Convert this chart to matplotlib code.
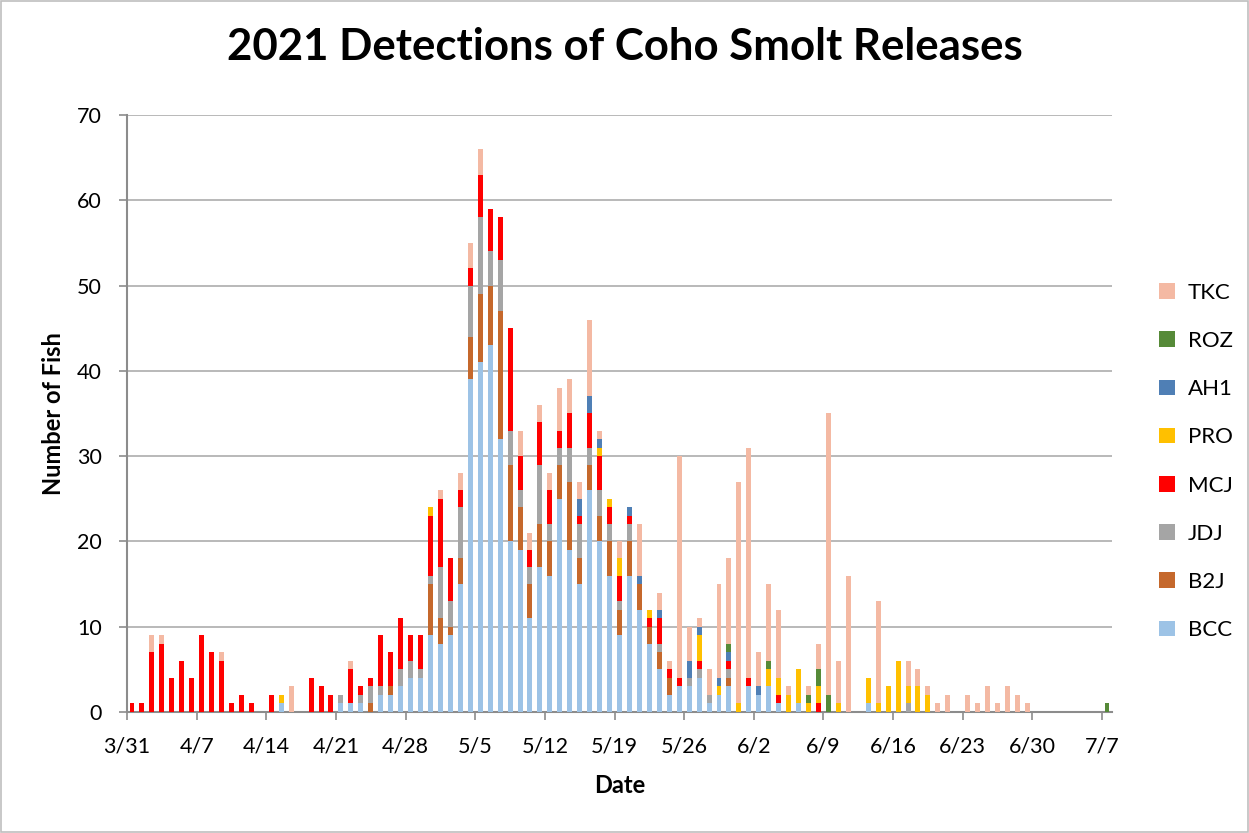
import numpy as np
import pandas as pd
import matplotlib
matplotlib.use("Agg")
import matplotlib.pyplot as plt
from matplotlib.patches import Rectangle

plt.rcParams["font.family"] = ["Lato", "DejaVu Sans"]

# daily detections 3/31 - 7/7, one row per week
days = pd.date_range("2021-03-31", "2021-07-07", freq="D")

BCC = [0, 0, 0, 0, 0, 0, 0,
       0, 0, 0, 0, 0, 0, 0,
       0, 1, 0, 0, 0, 0, 0,
       1, 1, 1, 0, 2, 2, 3,
       4, 4, 9, 8, 9, 15, 39,
       41, 43, 32, 20, 19, 11, 17,
       16, 25, 19, 15, 26, 20, 16,
       9, 16, 12, 8, 5, 2, 3,
       3, 4, 1, 2, 3, 0, 3,
       2, 3, 1, 0, 1, 0, 0,
       0, 0, 0, 0, 1, 0, 0,
       0, 0, 0, 0, 0, 0, 0,
       0, 0, 0, 0, 0, 0, 0,
       0, 0, 0, 0, 0, 0, 0,
       0]
B2J = [0, 0, 0, 0, 0, 0, 0,
       0, 0, 0, 0, 0, 0, 0,
       0, 0, 0, 0, 0, 0, 0,
       0, 0, 0, 1, 0, 1, 0,
       0, 0, 6, 3, 1, 3, 5,
       8, 7, 15, 9, 5, 4, 5,
       4, 4, 8, 3, 3, 3, 4,
       3, 4, 3, 2, 2, 2, 0,
       0, 0, 0, 0, 1, 0, 0,
       0, 0, 0, 0, 0, 0, 0,
       0, 0, 0, 0, 0, 0, 0,
       0, 0, 0, 0, 0, 0, 0,
       0, 0, 0, 0, 0, 0, 0,
       0, 0, 0, 0, 0, 0, 0,
       0]
JDJ = [0, 0, 0, 0, 0, 0, 0,
       0, 0, 0, 0, 0, 0, 0,
       0, 0, 0, 0, 0, 0, 0,
       1, 0, 1, 2, 1, 0, 2,
       2, 1, 1, 6, 3, 6, 6,
       9, 4, 6, 4, 2, 2, 7,
       2, 2, 4, 4, 2, 3, 2,
       1, 2, 0, 0, 1, 0, 0,
       1, 1, 1, 0, 1, 0, 0,
       0, 0, 0, 0, 0, 0, 0,
       0, 0, 0, 0, 0, 0, 0,
       0, 1, 0, 0, 0, 0, 0,
       0, 0, 0, 0, 0, 0, 0,
       0, 0, 0, 0, 0, 0, 0,
       0]
MCJ = [1, 1, 7, 8, 4, 6, 4,
       9, 7, 6, 1, 2, 1, 0,
       2, 0, 0, 0, 4, 3, 2,
       0, 4, 1, 1, 6, 4, 6,
       3, 4, 7, 8, 5, 2, 2,
       5, 5, 5, 12, 4, 2, 5,
       4, 2, 4, 1, 4, 4, 2,
       3, 1, 0, 1, 3, 1, 1,
       0, 1, 0, 0, 1, 0, 1,
       0, 0, 1, 0, 0, 0, 1,
       0, 0, 0, 0, 0, 0, 0,
       0, 0, 0, 0, 0, 0, 0,
       0, 0, 0, 0, 0, 0, 0,
       0, 0, 0, 0, 0, 0, 0,
       0]
PRO = [0, 0, 0, 0, 0, 0, 0,
       0, 0, 0, 0, 0, 0, 0,
       0, 1, 0, 0, 0, 0, 0,
       0, 0, 0, 0, 0, 0, 0,
       0, 0, 1, 0, 0, 0, 0,
       0, 0, 0, 0, 0, 0, 0,
       0, 0, 0, 0, 0, 1, 1,
       2, 0, 0, 1, 0, 0, 0,
       0, 3, 0, 1, 0, 1, 0,
       0, 2, 2, 2, 4, 1, 2,
       0, 1, 0, 0, 3, 1, 3,
       6, 2, 3, 2, 0, 0, 0,
       0, 0, 0, 0, 0, 0, 0,
       0, 0, 0, 0, 0, 0, 0,
       0]
AH1 = [0, 0, 0, 0, 0, 0, 0,
       0, 0, 0, 0, 0, 0, 0,
       0, 0, 0, 0, 0, 0, 0,
       0, 0, 0, 0, 0, 0, 0,
       0, 0, 0, 0, 0, 0, 0,
       0, 0, 0, 0, 0, 0, 0,
       0, 0, 0, 2, 2, 1, 0,
       0, 1, 1, 0, 1, 0, 0,
       2, 1, 0, 1, 1, 0, 0,
       1, 0, 0, 0, 0, 0, 0,
       0, 0, 0, 0, 0, 0, 0,
       0, 0, 0, 0, 0, 0, 0,
       0, 0, 0, 0, 0, 0, 0,
       0, 0, 0, 0, 0, 0, 0,
       0]
ROZ = [0, 0, 0, 0, 0, 0, 0,
       0, 0, 0, 0, 0, 0, 0,
       0, 0, 0, 0, 0, 0, 0,
       0, 0, 0, 0, 0, 0, 0,
       0, 0, 0, 0, 0, 0, 0,
       0, 0, 0, 0, 0, 0, 0,
       0, 0, 0, 0, 0, 0, 0,
       0, 0, 0, 0, 0, 0, 0,
       0, 0, 0, 0, 1, 0, 0,
       0, 1, 0, 0, 0, 1, 2,
       2, 0, 0, 0, 0, 0, 0,
       0, 0, 0, 0, 0, 0, 0,
       0, 0, 0, 0, 0, 0, 0,
       0, 0, 0, 0, 0, 0, 0,
       1]
TKC = [0, 0, 2, 1, 0, 0, 0,
       0, 0, 1, 0, 0, 0, 0,
       0, 0, 3, 0, 0, 0, 0,
       0, 1, 0, 0, 0, 0, 0,
       0, 0, 0, 1, 0, 2, 3,
       3, 0, 0, 0, 3, 2, 2,
       2, 5, 4, 2, 9, 1, 0,
       2, 0, 6, 0, 2, 1, 26,
       4, 1, 3, 11, 10, 26, 27,
       4, 9, 8, 1, 0, 1, 3,
       33, 5, 16, 0, 0, 12, 0,
       0, 3, 2, 1, 1, 2, 0,
       2, 1, 3, 1, 3, 2, 1,
       0, 0, 0, 0, 0, 0, 0,
       0]

series = ["BCC", "B2J", "JDJ", "MCJ", "PRO", "AH1", "ROZ", "TKC"]
values = [BCC, B2J, JDJ, MCJ, PRO, AH1, ROZ, TKC]
colors = ["#9DC3E6", "#C5682C", "#A5A5A5", "#FF0000",
          "#FFC000", "#4F7FB5", "#568A38", "#F4B9A3"]

tick_labels = ["3/31", "4/7", "4/14", "4/21", "4/28", "5/5", "5/12", "5/19",
               "5/26", "6/2", "6/9", "6/16", "6/23", "6/30", "7/7"]

fig = plt.figure(figsize=(12.49, 8.33), dpi=100)
ax = fig.add_axes([0.1017, 0.1453, 0.7886, 0.7167])

x = np.arange(len(days)) + 0.5
bottom = np.zeros(len(days))
handles = []
for name, vals, c in zip(series, values, colors):
    vals = np.array(vals, dtype=float)
    b = ax.bar(x, vals, width=0.5, bottom=bottom, color=c, label=name,
               edgecolor="none", zorder=3)
    handles.append(b)
    bottom += vals

ax.set_xlim(0, len(days))
ax.set_ylim(0, 70)
ax.set_yticks(np.arange(0, 71, 10))
ax.set_xticks(np.arange(0, len(days), 7))
ax.set_xticklabels(tick_labels)
ax.grid(axis="y", color="#A6A6A6", linewidth=1.1, zorder=0)
ax.set_axisbelow(True)

for s in ["top", "right"]:
    ax.spines[s].set_visible(False)
for s in ["left", "bottom"]:
    ax.spines[s].set_color("#8C8C8C")
    ax.spines[s].set_linewidth(1.5)
ax.tick_params(axis="both", colors="#8C8C8C", labelcolor="black",
               labelsize=15.5, direction="out", width=1.2)
ax.tick_params(axis="x", length=6, pad=12)
ax.tick_params(axis="y", length=6, pad=12)

ax.set_xlabel("Date", fontsize=17, fontweight="bold", labelpad=12)
ax.set_ylabel("Number of Fish", fontsize=17, fontweight="bold", labelpad=9)
fig.suptitle("2021 Detections of Coho Smolt Releases", fontsize=31.5,
             fontweight="bold", y=0.968)

fig.legend(handles[::-1], series[::-1], loc="center left",
           bbox_to_anchor=(0.912, 0.446), frameon=False, fontsize=16,
           handlelength=0.7, handleheight=0.7, handletextpad=0.6,
           labelspacing=1.27)

fig.patches.append(Rectangle((0.0005, 0.0008), 0.999, 0.998,
                             transform=fig.transFigure, fill=False,
                             edgecolor="#BFBFBF", linewidth=1.2))

fig.savefig("out.png", dpi=100)
